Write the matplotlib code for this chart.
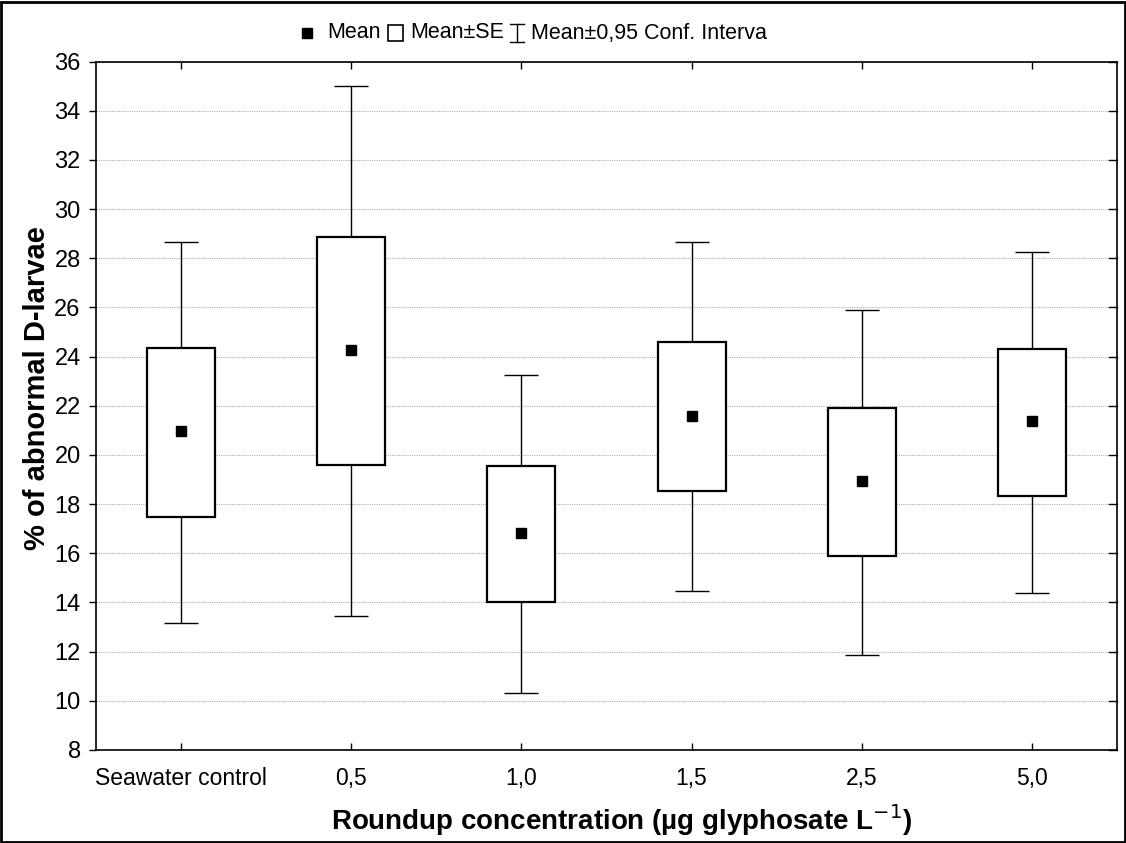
import matplotlib
matplotlib.use("Agg")
import matplotlib.pyplot as plt
from matplotlib.lines import Line2D
from matplotlib.patches import Rectangle

plt.rcParams['font.family'] = ['Liberation Sans', 'DejaVu Sans']

categories = ["Seawater control", "0,5", "1,0", "1,5", "2,5", "5,0"]
means = [20.97, 24.27, 16.83, 21.60, 18.94, 21.39]
se_low = [17.46, 19.59, 14.01, 18.52, 15.89, 18.34]
se_high = [24.36, 28.86, 19.56, 24.59, 21.92, 24.31]
ci_low = [13.17, 13.46, 10.31, 14.47, 11.88, 14.40]
ci_high = [28.66, 35.00, 23.26, 28.65, 25.91, 28.27]
y_ticks = list(range(8, 37, 2))

W, H = 1126, 843
fig = plt.figure(figsize=(W / 100, H / 100), dpi=100)
ax = fig.add_axes([96 / W, 1 - 750 / H, (1117 - 96) / W, (750 - 61.5) / H])

x = list(range(len(categories)))

# whiskers (CI)
ax.vlines(x, ci_low, ci_high, color='black', lw=1.0, zorder=2)
ax.hlines(ci_low, [i - 0.1 for i in x], [i + 0.1 for i in x], color='black', lw=1.0, zorder=2)
ax.hlines(ci_high, [i - 0.1 for i in x], [i + 0.1 for i in x], color='black', lw=1.0, zorder=2)

# SE boxes
heights = [h - l for h, l in zip(se_high, se_low)]
ax.bar(x, heights, bottom=se_low, width=0.4, facecolor='white', edgecolor='black',
       linewidth=1.6, zorder=3)

# means
ax.plot(x, means, linestyle='none', marker='s', markersize=7, color='black', zorder=4)

ax.set_xlim(-0.5, 5.5)
ax.set_ylim(8, 36)
ax.set_xticks(x)
ax.set_xticklabels(categories, fontsize=16.5)
ax.set_yticks(y_ticks)
ax.set_yticklabels([str(v) for v in y_ticks], fontsize=17)
ax.tick_params(axis='x', direction='in', top=True, bottom=True, length=5, width=1, pad=12)
ax.tick_params(axis='y', direction='out', left=True, right=False, length=5, width=1, pad=6)
# right side inward ticks
for v in y_ticks:
    ax.plot([1, 0.992], [v, v], transform=ax.get_yaxis_transform(), color='black', lw=1, clip_on=False, zorder=5)

ax.yaxis.grid(True, linestyle=(0, (1, 1)), color='#b0b0b0', lw=0.8)
ax.set_axisbelow(True)
for s in ax.spines.values():
    s.set_linewidth(1.2)

ax.set_ylabel("% of abnormal D-larvae", fontsize=21, fontweight='bold', va='center')
ax.yaxis.set_label_coords((37 - 96) / 1021, (750 - 388) / 688.5)
ax.set_xlabel("Roundup concentration (µg glyphosate L$^{-1}$)", fontsize=20, fontweight='bold', va='center')
ax.xaxis.set_label_coords((622 - 96) / 1021, (750 - 820) / 688.5)

# legend (figure coordinates)
ly = 1 - 33 / H
fs = 15.5
fig.add_artist(Line2D([307 / W], [ly], marker='s', markersize=7, color='black', linestyle='none'))
fig.text(327 / W, ly, "Mean", fontsize=fs, va='center', ha='left')
fig.add_artist(Rectangle((388 / W, 1 - 41 / H), 15 / W, 16 / H, facecolor='white',
                         edgecolor='black', lw=1.2, transform=fig.transFigure))
fig.text(410 / W, ly, "Mean±SE", fontsize=fs, va='center', ha='left')
bx = 517
fig.add_artist(Line2D([bx / W, bx / W], [1 - 24 / H, 1 - 42 / H], color='black', lw=1))
fig.add_artist(Line2D([(bx - 7) / W, (bx + 7) / W], [1 - 24 / H, 1 - 24 / H], color='black', lw=1))
fig.add_artist(Line2D([(bx - 7) / W, (bx + 7) / W], [1 - 42 / H, 1 - 42 / H], color='black', lw=1))
fig.text(531 / W, ly, "Mean±0,95 Conf. Interva", fontsize=fs, va='center', ha='left')

# figure border
fig.add_artist(Rectangle((0.001, 0.001), 0.998, 0.997, facecolor='none', edgecolor='black',
                         lw=2, transform=fig.transFigure))

fig.savefig("out.png", dpi=100)
